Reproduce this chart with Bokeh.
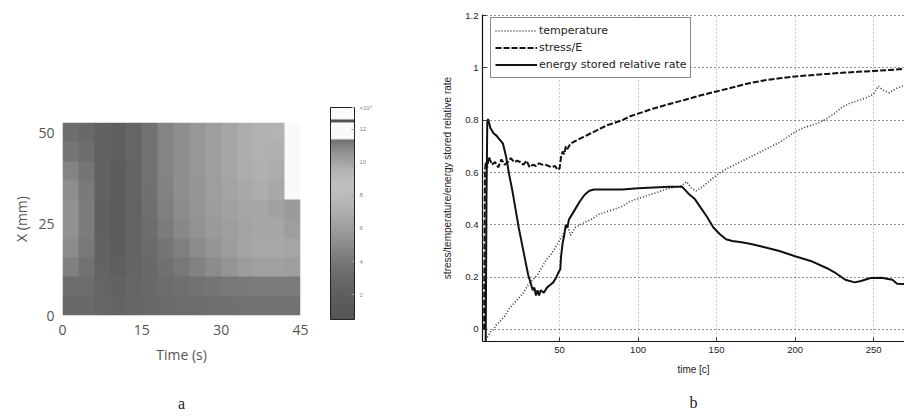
import numpy as np
from bokeh.plotting import figure
from bokeh.layouts import row, column
from bokeh.models import (LinearColorMapper, ColorBar, FixedTicker, LinearAxis,
                          Range1d, Legend, LegendItem)
from bokeh.embed import file_html
from bokeh.resources import INLINE

# ---------------- panel a : heat map (values in colour-bar units) ----------------
time_edges = [0, 45]
x_edges = [0, 53]
# rows from bottom (X small) to top (X large), 15 time columns of 3 s
row_0 = [3.0, 3.0, 2.6, 2.4, 2.7, 2.9, 3.1, 3.2, 3.3, 3.4, 3.5, 3.6, 3.6, 3.6, 3.6]
row_1 = [3.3, 3.2, 2.6, 2.3, 2.7, 3.0, 3.2, 3.4, 3.6, 3.8, 4.0, 4.1, 4.2, 4.2, 4.2]
row_2 = [4.4, 3.6, 2.4, 2.0, 2.5, 3.0, 3.5, 4.0, 4.5, 5.0, 5.5, 5.9, 6.2, 6.2, 6.0]
row_3 = [5.0, 4.0, 2.2, 1.8, 2.4, 3.1, 3.8, 4.4, 5.0, 5.5, 5.9, 6.3, 6.6, 6.6, 6.4]
row_4 = [5.3, 4.2, 2.1, 1.6, 2.4, 3.3, 4.2, 4.8, 5.4, 5.8, 6.0, 6.3, 6.5, 6.5, 6.0]
row_5 = [5.3, 4.2, 2.1, 1.6, 2.4, 3.4, 4.4, 5.0, 5.5, 5.9, 6.2, 6.4, 6.5, 6.2, 5.8]
row_6 = [5.1, 4.1, 2.2, 1.7, 2.5, 3.5, 4.5, 5.1, 5.5, 6.0, 6.3, 6.6, 6.9, 6.6, 12.0]
row_7 = [4.6, 3.8, 2.2, 1.8, 2.5, 3.6, 4.6, 5.2, 5.6, 6.0, 6.4, 6.8, 7.1, 6.8, 12.0]
row_8 = [3.8, 3.3, 2.2, 1.9, 2.6, 3.6, 4.6, 5.2, 5.6, 6.0, 6.4, 6.8, 7.2, 7.0, 12.0]
row_9 = [3.3, 3.0, 2.3, 2.0, 2.6, 3.6, 4.6, 5.2, 5.6, 6.0, 6.4, 6.8, 7.2, 7.3, 12.0]
time_ticks = [0, 15, 30, 45]
x_ticks = [0, 25, 50]
cbar_ticks = [2, 4, 6, 8, 10, 12]
cbar_low, cbar_high = 0.5, 13.3
cbar_exp_label = "×10⁴"

# ---------------- panel b : curves ----------------
t_temp = [4, 6, 8, 10, 12, 15, 18, 21, 24, 27, 30, 33, 36, 39, 42, 45, 48, 50, 52, 55, 57,
          60, 63, 66, 70, 75, 80, 85, 90, 95, 100, 105, 110, 115, 120, 125, 128, 131, 134,
          137, 141, 145, 150, 155, 160, 165, 170, 175, 180, 185, 190, 195, 200, 205, 210,
          215, 220, 225, 230, 235, 240, 245, 250, 253, 256, 260, 264, 268, 272]
temperature = [-0.03, -0.01, 0.0, 0.02, 0.03, 0.05, 0.08, 0.10, 0.12, 0.14, 0.17, 0.19, 0.21,
               0.24, 0.27, 0.29, 0.32, 0.34, 0.36, 0.40, 0.36, 0.39, 0.40, 0.41, 0.42, 0.44,
               0.45, 0.46, 0.47, 0.49, 0.50, 0.51, 0.52, 0.53, 0.54, 0.545, 0.55, 0.565, 0.54,
               0.53, 0.545, 0.565, 0.59, 0.61, 0.625, 0.64, 0.655, 0.67, 0.685, 0.70, 0.715,
               0.735, 0.755, 0.77, 0.78, 0.79, 0.805, 0.825, 0.85, 0.865, 0.875, 0.885, 0.90,
               0.93, 0.915, 0.905, 0.92, 0.93, 0.935]

t_stress = [2.0, 2.5, 3, 4, 5, 7, 9, 11, 13, 15, 17, 19, 21, 23, 25, 27, 29, 31, 33, 35, 37,
            39, 41, 43, 45, 47, 49, 50, 51, 52, 53, 54, 55, 57, 60, 65, 70, 75, 80, 85, 90,
            95, 100, 110, 120, 130, 140, 150, 160, 170, 180, 190, 200, 210, 220, 230, 240,
            250, 260, 270]
stress = [0.0, 0.60, 0.64, 0.62, 0.66, 0.63, 0.64, 0.62, 0.65, 0.63, 0.64, 0.655, 0.64, 0.645,
          0.64, 0.63, 0.645, 0.62, 0.63, 0.625, 0.635, 0.63, 0.63, 0.625, 0.62, 0.625, 0.61,
          0.615, 0.66, 0.68, 0.67, 0.70, 0.69, 0.71, 0.72, 0.735, 0.75, 0.765, 0.78, 0.79,
          0.80, 0.815, 0.825, 0.845, 0.862, 0.878, 0.895, 0.91, 0.925, 0.94, 0.952, 0.96,
          0.967, 0.972, 0.977, 0.981, 0.985, 0.988, 0.992, 0.996]

t_energy = [3.0, 3.5, 4.0, 4.5, 6, 8, 10, 12, 14, 16, 18, 20, 22, 24, 26, 28, 30, 32, 33, 34,
            35, 36, 37, 38, 40, 42, 44, 46, 48, 49.5, 50.5, 51, 52, 53, 54, 55, 56, 58, 60,
            63, 66, 69, 72, 80, 90, 100, 110, 120, 128, 132, 136, 140, 144, 148, 152, 156,
            160, 166, 172, 180, 190, 200, 210, 220, 226, 232, 238, 242, 248, 255, 262, 265, 272]
energy = [-0.045, 0.50, 0.79, 0.805, 0.77, 0.75, 0.74, 0.725, 0.71, 0.66, 0.59, 0.53, 0.46,
          0.39, 0.33, 0.27, 0.21, 0.17, 0.15, 0.16, 0.13, 0.15, 0.13, 0.15, 0.14, 0.16, 0.17,
          0.18, 0.20, 0.22, 0.23, 0.28, 0.33, 0.36, 0.40, 0.39, 0.42, 0.44, 0.46, 0.49, 0.515,
          0.53, 0.535, 0.535, 0.535, 0.54, 0.543, 0.546, 0.546, 0.52, 0.50, 0.465, 0.43, 0.39,
          0.365, 0.345, 0.338, 0.333, 0.327, 0.315, 0.30, 0.28, 0.262, 0.235, 0.215, 0.19,
          0.18, 0.185, 0.197, 0.198, 0.19, 0.175, 0.173]

x_ticks_b = [50, 100, 150, 200, 250]
y_ticks_b = [0, 0.2, 0.4, 0.6, 0.8, 1.0, 1.2]

# ---------------- styling ----------------
H = 414
# grey rendering of the original (jet-like) colour map
cv = [0.5, 2, 3, 4, 5, 6, 7, 8, 8.7, 9.5, 10.5, 11.35, 11.4, 12.4, 12.45, 12.6, 12.65, 13.3]
cg = [85, 95, 105, 120, 140, 158, 175, 188, 192, 180, 150, 115, 250, 250, 80, 80, 250, 250]
grays = np.interp(np.linspace(cbar_low, cbar_high, 256), cv, cg).astype(int)
palette = ["#%02x%02x%02x" % (g, g, g) for g in grays]
mapper = LinearColorMapper(palette=palette, low=cbar_low, high=cbar_high)

grid = np.array([row_0, row_1, row_2, row_3, row_4, row_5, row_6, row_7, row_8, row_9])

p1 = figure(width=408, height=H, x_range=Range1d(*time_edges), y_range=Range1d(*x_edges),
            output_backend="svg", toolbar_location=None,
            min_border_left=62, min_border_right=108, min_border_top=122,
            min_border_bottom=H - 317)
p1.image(image=[grid], x=time_edges[0], y=x_edges[0], dw=time_edges[1] - time_edges[0],
         dh=x_edges[1] - x_edges[0], color_mapper=mapper)
p1.grid.visible = False
p1.outline_line_color = None
p1.xaxis.ticker = FixedTicker(ticks=time_ticks)
p1.yaxis.ticker = FixedTicker(ticks=x_ticks)
p1.xaxis.axis_label = "Time (s)"
p1.yaxis.axis_label = "X (mm)"
for ax in (p1.xaxis[0], p1.yaxis[0]):
    ax.axis_line_color = None
    ax.major_tick_line_color = None
    ax.minor_tick_line_color = None
    ax.major_label_text_font = "Open Sans"
    ax.major_label_text_font_size = "14px"
    ax.major_label_text_color = "#555555"
    ax.axis_label_text_font = "Open Sans"
    ax.axis_label_text_font_size = "14px"
    ax.axis_label_text_color = "#555555"
    ax.axis_label_text_font_style = "normal"
p1.xaxis.major_label_standoff = 3
p1.yaxis.major_label_standoff = 2
p1.xaxis.axis_label_standoff = 7
p1.yaxis.axis_label_standoff = 4

a_axis = LinearAxis(ticker=FixedTicker(ticks=[]), axis_label="a", axis_line_color=None,
                    major_tick_line_color=None, minor_tick_line_color=None,
                    major_label_text_font_size="0px", axis_label_text_font="Liberation Serif",
                    axis_label_text_font_size="16px", axis_label_text_font_style="normal",
                    axis_label_text_color="#222222", axis_label_standoff=28)
p1.add_layout(a_axis, "below")

cbar = ColorBar(color_mapper=mapper, ticker=FixedTicker(ticks=cbar_ticks + [cbar_high]),
                major_label_overrides={cbar_high: cbar_exp_label},
                width=24, height=212, location=(28, -6), padding=2, bar_line_color="#222222",
                major_label_text_font_size="6px", major_label_text_color="#888888",
                major_tick_line_color="#999999", major_tick_in=3, major_tick_out=0,
                background_fill_alpha=0, border_line_color=None)
p1.add_layout(cbar, "right")

# ---------------- panel b figure ----------------
p2 = figure(width=496, height=H, x_range=Range1d(0.96, 269.7), y_range=Range1d(-0.046, 1.204),
            output_backend="svg", toolbar_location=None,
            min_border_left=74, min_border_right=0, min_border_top=14, min_border_bottom=H - 341)
p2.outline_line_color = None
p2.xgrid.grid_line_color = "#999999"
p2.xgrid.grid_line_dash = "1 3"
p2.ygrid.grid_line_color = "#222222"
p2.ygrid.grid_line_dash = "1 3"
p2.xaxis.ticker = FixedTicker(ticks=x_ticks_b)
p2.yaxis.ticker = FixedTicker(ticks=y_ticks_b)
p2.yaxis.major_label_overrides = {0: "0", 1: "1"}
p2.xaxis.axis_label = "time [c]"
p2.yaxis.axis_label = "stress/temperature/energy stored relative rate"
for ax in (p2.xaxis[0], p2.yaxis[0]):
    ax.axis_line_color = "#111111"
    ax.axis_line_width = 1.2
    ax.major_tick_in = 4
    ax.major_tick_out = 0
    ax.major_tick_line_color = "#333333"
    ax.minor_tick_line_color = None
    ax.major_label_text_font = "Liberation Sans"
    ax.major_label_text_font_size = "9.5px"
    ax.major_label_text_color = "#222222"
    ax.axis_label_text_font = "Liberation Sans"
    ax.axis_label_text_font_size = "10px"
    ax.axis_label_text_color = "#222222"
    ax.axis_label_text_font_style = "normal"
p2.xaxis.major_label_standoff = 5
p2.yaxis.major_label_standoff = 4
p2.xaxis.axis_label_standoff = 8
p2.yaxis.axis_label_standoff = 9

b_axis = LinearAxis(ticker=FixedTicker(ticks=[]), axis_label="b", axis_line_color=None,
                    major_tick_line_color=None, minor_tick_line_color=None,
                    major_label_text_font_size="0px", axis_label_text_font="Liberation Serif",
                    axis_label_text_font_size="16px", axis_label_text_font_style="normal",
                    axis_label_text_color="#222222", axis_label_standoff=16)
p2.add_layout(b_axis, "below")

r_t = p2.line(t_temp, temperature, line_color="#333333", line_width=1.6, line_dash="1 2")
r_s = p2.line(t_stress, stress, line_color="#111111", line_width=2, line_dash="6 2")
r_e = p2.line(t_energy, energy, line_color="#111111", line_width=2)

legend = Legend(items=[LegendItem(label="temperature", renderers=[r_t]),
                       LegendItem(label="stress/E", renderers=[r_s]),
                       LegendItem(label="energy stored relative rate", renderers=[r_e])],
                location=(8, 263), border_line_color="#111111", border_line_width=1,
                background_fill_color="white", background_fill_alpha=1,
                label_text_font="DejaVu Sans", label_text_font_size="11px",
                label_text_color="#222222", glyph_width=42, glyph_height=17, label_height=17,
                spacing=0, padding=4, margin=0, label_standoff=2)
p2.add_layout(legend, "center")

layout = row(column(p1), column(p2))
open("out.html", "w").write(file_html(layout, INLINE))
